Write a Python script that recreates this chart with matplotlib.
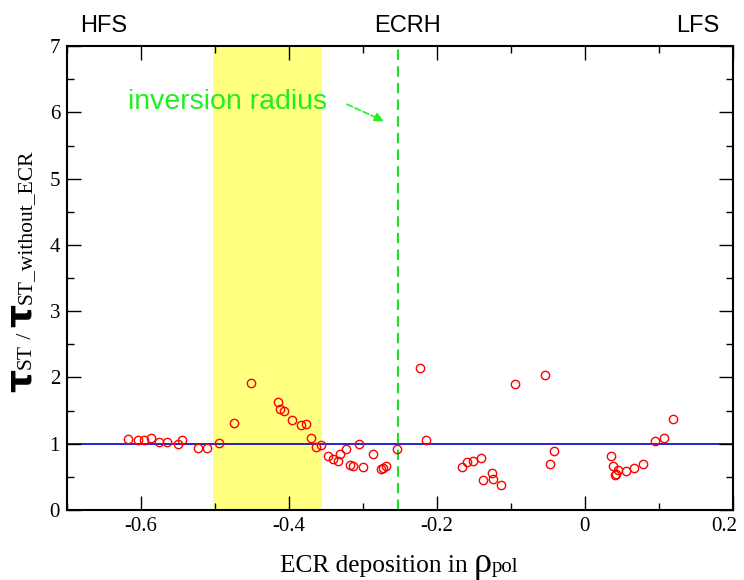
import matplotlib
matplotlib.use("Agg")
import matplotlib.pyplot as plt
import matplotlib.transforms as mtransforms
from matplotlib.ticker import MultipleLocator, FuncFormatter

# ECR deposition (rho_pol) and tau_ST ratio
rho_dep = [-0.618, -0.604, -0.596, -0.587, -0.575, -0.565, -0.550, -0.544,
           -0.523, -0.511, -0.495, -0.474, -0.451, -0.415, -0.412, -0.407,
           -0.396, -0.384, -0.377, -0.370, -0.363, -0.357, -0.347, -0.341,
           -0.334, -0.331, -0.323, -0.318, -0.313, -0.305, -0.300, -0.287,
           -0.275, -0.273, -0.269, -0.254, -0.223, -0.215, -0.166, -0.159,
           -0.151, -0.141, -0.138, -0.125, -0.124, -0.114, -0.095, -0.054,
           -0.047, -0.042, 0.035, 0.038, 0.0405, 0.042, 0.0446, 0.056,
           0.066, 0.079, 0.0946, 0.107, 0.119]
tau_ratio = [1.07, 1.05, 1.05, 1.08, 1.02, 1.03, 1.00, 1.05,
             0.935, 0.935, 1.01, 1.31, 1.92, 1.63, 1.53, 1.50,
             1.36, 1.29, 1.30, 1.08, 0.955, 0.985, 0.82, 0.77,
             0.745, 0.84, 0.925, 0.68, 0.67, 0.995, 0.645, 0.84,
             0.62, 0.64, 0.66, 0.915, 2.15, 1.06, 0.65, 0.73,
             0.74, 0.78, 0.45, 0.56, 0.47, 0.37, 1.90, 2.04,
             0.69, 0.89, 0.82, 0.67, 0.53, 0.55, 0.60, 0.59,
             0.63, 0.70, 1.045, 1.09, 1.38]

band = (-0.503, -0.355)      # yellow ECRH region
inv_radius = -0.253

serif = "Liberation Serif"
sans = "Liberation Sans"

fig = plt.figure(figsize=(7.44, 5.8), dpi=100)
ax = fig.add_axes([0.090, 0.1207, 0.895, 0.7998])

ax.axvspan(band[0], band[1], color="#ffff80", lw=0, zorder=0)
ax.axhline(1.0, color="#0000cc", lw=1.2, zorder=1)
ax.axvline(inv_radius, color="#22dd22", lw=1.5, ls=(0, (5, 3)), zorder=1)
ax.plot(rho_dep, tau_ratio, "o", ms=6, mfc="none", mec="red", mew=1.0, zorder=3)

ax.set_xlim(-0.7, 0.2)
ax.set_ylim(0, 7)
ax.xaxis.set_major_locator(MultipleLocator(0.2))
ax.xaxis.set_minor_locator(MultipleLocator(0.1))
ax.yaxis.set_major_locator(MultipleLocator(1))
ax.yaxis.set_minor_locator(MultipleLocator(0.5))
ax.xaxis.set_major_formatter(FuncFormatter(lambda v, p: "0" if abs(v) < 1e-9 else f"{v:.1f}"))
ax.tick_params(which="both", direction="in", top=True, right=True, width=1.0)
ax.tick_params(which="major", length=10, labelsize=15, labelfontfamily=serif)
ax.tick_params(which="minor", length=5)
ax.tick_params(axis="x", pad=5)
ax.tick_params(axis="y", pad=5)
for sp in ax.spines.values():
    sp.set_linewidth(1.5)

# last x label sits at the figure edge; nudge it in a little
fig.canvas.draw()
last = [t for t in ax.xaxis.get_major_ticks() if abs(t.get_loc() - 0.2) < 1e-6]
for t in last:
    t.label1.set_transform(t.label1.get_transform()
                           + mtransforms.ScaledTranslation(-9 / 100, 0, fig.dpi_scale_trans))

# side labels
fig.text(0.108, 0.945, "HFS", family=sans, fontsize=17)
fig.text(0.548, 0.945, "ECRH", family=sans, fontsize=17, ha="center")
fig.text(0.967, 0.945, "LFS", family=sans, fontsize=17, ha="right")

ax.text(-0.618, 6.15, "inversion radius", color="#22ee22", family=sans, fontsize=20.5,
        va="center")
ax.annotate("", xy=(-0.268, 5.85), xytext=(-0.325, 6.14),
            arrowprops=dict(arrowstyle="-|>", color="#22ee22", lw=1.2, ls="--",
                            mutation_scale=14))

renderer = fig.canvas.get_renderer()


def chain(pieces, x0, y0, rotation=0):
    # put text pieces one after another on a common baseline (pixels)
    x, y = x0, y0
    for txt, kw in pieces:
        t = fig.text(x / fig.bbox.width, y / fig.bbox.height, txt,
                     rotation=rotation, rotation_mode="anchor",
                     ha="left", va="baseline", **kw)
        bb = t.get_window_extent(renderer)
        if rotation == 90:
            y += bb.height
        else:
            x += bb.width


chain([("ECR deposition in ", dict(family=serif, fontsize=18.3)),
       ("\u03c1", dict(family=serif, fontsize=26)),
       ("pol", dict(family=serif, fontsize=15))],
      280, 580 - 572)

chain([("\u03c4", dict(family="DejaVu Sans", fontsize=26, fontweight="bold")),
       ("ST", dict(family=serif, fontsize=15.5)),
       (" / ", dict(family=serif, fontsize=15.5)),
       ("\u03c4", dict(family="DejaVu Sans", fontsize=26, fontweight="bold")),
       ("ST_without_ECR", dict(family=serif, fontsize=15.5))],
      31, 580 - 392, rotation=90)

fig.savefig("out.png", dpi=100)
